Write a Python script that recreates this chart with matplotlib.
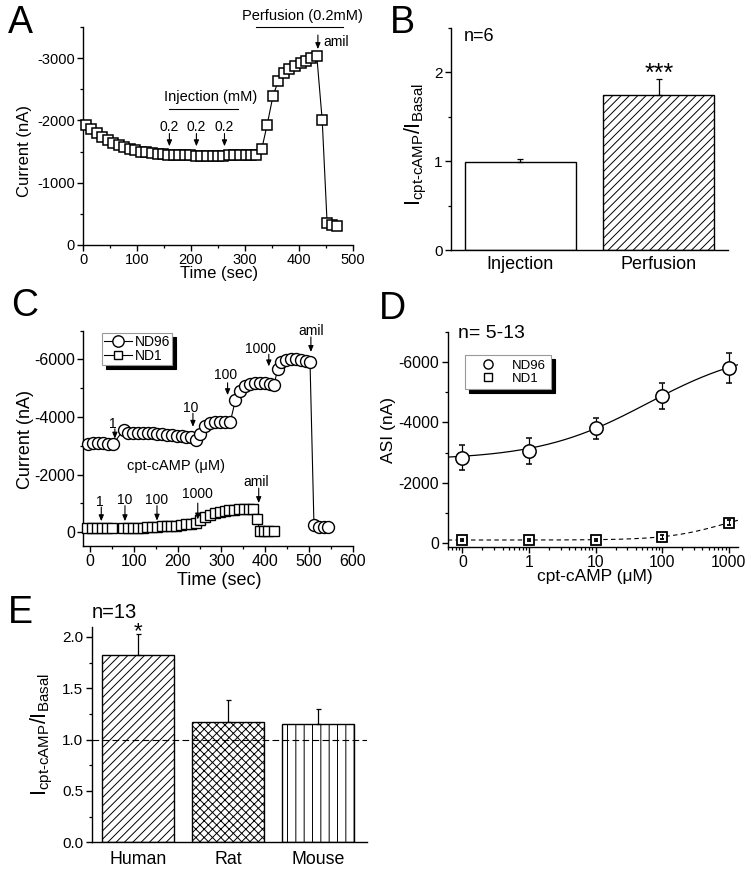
import numpy as np
import matplotlib
matplotlib.use('Agg')
import matplotlib.pyplot as plt
from matplotlib.ticker import MultipleLocator, NullFormatter, LogLocator, FormatStrFormatter, FixedLocator
from matplotlib.lines import Line2D

plt.rcParams['font.family'] = ['Liberation Sans', 'DejaVu Sans']
plt.rcParams['axes.unicode_minus'] = False
plt.rcParams['mathtext.fontset'] = 'custom'
plt.rcParams['mathtext.rm'] = 'Liberation Sans'
plt.rcParams['mathtext.it'] = 'Liberation Sans:italic'
plt.rcParams['mathtext.bf'] = 'Liberation Sans:bold'
plt.rcParams['hatch.linewidth'] = 0.7
plt.rcParams['axes.linewidth'] = 1.0

# ---------------- data ----------------
# Panel A
tA = [5, 15, 25, 36, 46, 56, 66, 76, 87, 97, 107, 117, 127, 138, 148, 158, 168, 178, 189, 199,
      209, 219, 229, 240, 250, 260, 270, 280, 291, 301, 311, 321,
      331, 341, 352, 362, 372, 382, 392, 403, 413, 423, 433, 443, 452, 461, 470]
iA = [-1930, -1860, -1795, -1735, -1685, -1640, -1600, -1570, -1545, -1520,
      -1500, -1487, -1475, -1465, -1458, -1452, -1447, -1443, -1440, -1437,
      -1435, -1433, -1432, -1432, -1433, -1435, -1437, -1438, -1440, -1442, -1443, -1445,
      -1540, -1930, -2400, -2640, -2760, -2830, -2880, -2920, -2960, -3000, -3030,
      -2000, -360, -320, -310]
inj_times = [160, 210, 262]
inj_labels = ['0.2', '0.2', '0.2']

# Panel B
catB = ['Injection', 'Perfusion']
valB = [0.99, 1.74]
errB = [0.03, 0.185]
hatchB = ['', '////']

# Panel C
tC96 = [-4, 8, 19, 30, 42, 53,
        77, 88, 99, 110, 121, 132, 143, 154, 165, 176, 187, 198, 209, 220, 231, 241,
        252, 263, 274, 286, 297, 308, 320,
        332, 342, 354, 365, 376, 388, 399, 410, 420,
        428, 436, 447, 458, 470, 481, 492, 502,
        511, 523, 534, 542]
iC96 = [-3080, -3090, -3090, -3090, -3080, -3060,
        -3560, -3450, -3430, -3430, -3435, -3435, -3430, -3420, -3400, -3380, -3360, -3340, -3330, -3320, -3300, -3220,
        -3420, -3700, -3800, -3820, -3820, -3820, -3820,
        -4600, -4900, -5080, -5160, -5180, -5190, -5180, -5160, -5100,
        -5675, -5905, -5985, -6000, -6000, -5985, -5960, -5905,
        -254, -196, -173, -173]
tC1 = [-6, 5, 16, 27, 38, 51,
       76, 87, 98, 109, 120, 131, 142, 153, 164, 175, 186, 197, 208, 219, 230, 241,
       252, 263, 274, 285, 296, 307, 318, 329, 340, 351, 362, 373,
       381, 388, 397, 406, 419]
iC1 = [-140, -140, -140, -140, -140, -140,
       -140, -140, -145, -150, -160, -175, -185, -195, -200, -205, -210, -225, -245, -270, -300, -330,
       -420, -520, -600, -660, -710, -740, -765, -780, -790, -800, -800, -800,
       -450, -30, -25, -25, -25]
c96_marks_t = [57, 235, 314, 408]
c96_marks_lab = ['1', '10', '100', '1000']
c1_marks_t = [26, 80, 153, 246]
c1_marks_lab = ['1', '10', '100', '1000']

# Panel D
concD_pos = [0.1, 1, 10, 100, 1000]
concD_lab = ['0', '1', '10', '100', '1000']
asi96 = [-2830, -3050, -3800, -4880, -5800]
err96 = [410, 435, 340, 440, 480]
asi1 = [-110, -110, -115, -220, -680]
err1 = [30, 30, 40, 60, 80]
# fitted Hill curves (bottom, amplitude, EC50, slope)
fit96_par = (-2760, -3750, 61.0, 0.53)
fit1_par = (-110, -1064, 867.0, 1.0)

# Panel E
catE = ['Human', 'Rat', 'Mouse']
valE = [1.82, 1.17, 1.15]
errE = [0.205, 0.22, 0.147]
hatchE = ['////', 'xxxx', '||']

# ---------------- figure ----------------
W, H = 751, 874
fig = plt.figure(figsize=(W / 100, H / 100), dpi=100)


def rect(l, t, r, b):
    return [l / W, 1 - b / H, (r - l) / W, (b - t) / H]


def style(ax, fs=10):
    for s in ['top', 'right']:
        ax.spines[s].set_visible(False)
    ax.tick_params(which='major', direction='out', length=4, width=1.0, pad=2, labelsize=fs)
    ax.tick_params(which='minor', direction='out', length=2.2, width=0.9)


def arrow(ax, x, y0, y1):
    ax.annotate('', xy=(x, y1), xytext=(x, y0),
                arrowprops=dict(arrowstyle='-|>,head_length=0.6,head_width=0.25', color='k',
                                lw=0.8, mutation_scale=6, shrinkA=0, shrinkB=0),
                annotation_clip=False)


ylab_ratio = r'I$_{\text{cpt-cAMP}}$/I$_{\text{Basal}}$'

# ---- A ----
axA = fig.add_axes(rect(83, 27, 353, 245))
style(axA, 10.5)
axA.plot(tA, iA, '-', color='k', lw=0.8, marker='s', ms=7.2, mfc='white', mec='k', mew=1.1,
         clip_on=False, zorder=3)
axA.set_xlim(0, 500)
axA.set_ylim(0, -3500)
axA.xaxis.set_major_locator(MultipleLocator(100))
axA.xaxis.set_minor_locator(MultipleLocator(50))
axA.yaxis.set_major_locator(MultipleLocator(1000))
axA.yaxis.set_minor_locator(MultipleLocator(500))
axA.set_xlabel('Time (sec)', fontsize=12)
axA.set_ylabel('Current (nA)', fontsize=12)
axA.xaxis.set_label_coords(0.504, -0.095)
axA.yaxis.set_label_coords(-0.19, 0.432)
axA.text(236, -2370, 'Injection (mM)', ha='center', va='center', fontsize=10.5)
axA.plot([160, 287], [-2184, -2184], color='k', lw=0.8)
for x, lab in zip(inj_times, inj_labels):
    axA.text(x, -1902, lab, ha='center', va='center', fontsize=10)
    arrow(axA, x, -1790, -1585)
axA.text(407, -3676, 'Perfusion (0.2mM)', ha='center', va='center', fontsize=10.5, clip_on=False)
axA.plot([321, 481], [-3500, -3500], color='k', lw=0.8, clip_on=False)
arrow(axA, 435, -3370, -3145)
axA.text(446, -3266, 'amil', ha='left', va='center', fontsize=10)

# ---- B ----
axB = fig.add_axes(rect(451, 28, 728, 250))
style(axB, 11)
xB = np.arange(1, len(catB) + 1)
for x, v, h in zip(xB, valB, hatchB):
    axB.bar(x, v, width=0.8, color='white', edgecolor='k', lw=1.0, hatch=h, zorder=2)
axB.errorbar(xB, valB, yerr=[np.zeros(len(valB)), errB], fmt='none', ecolor='k',
             elinewidth=0.9, capsize=2.5, capthick=0.9, zorder=3)
axB.set_xlim(0.5, 2.5)
axB.set_ylim(0, 2.5)
axB.yaxis.set_major_locator(MultipleLocator(1))
axB.yaxis.set_minor_locator(MultipleLocator(0.5))
axB.set_xticks(xB)
axB.set_xticklabels(catB, fontsize=13)
axB.tick_params(axis='x', length=0, pad=4)
axB.set_ylabel(ylab_ratio, fontsize=15.5)
axB.yaxis.set_label_coords(-0.078, 0.477)
axB.text(0.589, 2.35, 'n=6', ha='left', va='baseline', fontsize=13)
axB.text(2.0, 1.91, '***', ha='center', va='baseline', fontsize=18)

# ---- C ----
axC = fig.add_axes(rect(83.3, 330.7, 353, 546))
style(axC, 11.5)
axC.plot(tC96, iC96, '-', color='k', lw=0.8, marker='o', ms=8.6, mfc='white', mec='k', mew=1.0,
         clip_on=False, zorder=3, label='ND96')
axC.plot(tC1, iC1, '-', color='k', lw=0.8, marker='s', ms=6.6, mfc='white', mec='k', mew=1.0,
         clip_on=False, zorder=3, label='ND1')
axC.set_xlim(-15, 600)
axC.set_ylim(480, -7000)
axC.xaxis.set_major_locator(MultipleLocator(100))
axC.xaxis.set_minor_locator(MultipleLocator(50))
axC.yaxis.set_major_locator(MultipleLocator(2000))
axC.yaxis.set_minor_locator(MultipleLocator(1000))
axC.set_xlabel('Time (sec)', fontsize=13)
axC.set_ylabel('Current (nA)', fontsize=13)
axC.xaxis.set_label_coords(0.503, -0.122)
axC.yaxis.set_label_coords(-0.181, 0.493)
c96_lab_y = [-3772, -4325, -5444, -6367]
c96_arr = [(-3590, -3250), (-4130, -3660), (-5190, -4760), (-6180, -5760)]
c96_lab_x = [53, 231, 309, 390]
for x, lx, ly, lab, (a0, a1) in zip(c96_marks_t, c96_lab_x, c96_lab_y, c96_marks_lab, c96_arr):
    axC.text(lx, ly, lab, ha='center', va='center', fontsize=10)
    arrow(axC, x, a0, a1)
axC.text(504, -7000, 'amil', ha='center', va='center', fontsize=10, clip_on=False)
arrow(axC, 504, -6780, -6260)
c1_lab_x = [23, 80, 152, 245]
c1_lab_y = [-1061, -1119, -1119, -1326]
c1_arr = [(-870, -380), (-920, -380), (-920, -400), (-1010, -440)]
for x, lx, ly, lab, (a0, a1) in zip(c1_marks_t, c1_lab_x, c1_lab_y, c1_marks_lab, c1_arr):
    axC.text(lx, ly, lab, ha='center', va='center', fontsize=10)
    arrow(axC, x, a0, a1)
axC.text(379, -1753, 'amil', ha='center', va='center', fontsize=10)
arrow(axC, 385, -1530, -1010)
axC.text(197, -2295, 'cpt-cAMP (μM)', ha='center', va='center', fontsize=10.5)
legC = axC.legend(loc='upper left', bbox_to_anchor=(0.069, 0.991), fontsize=10, frameon=True,
                  fancybox=False, framealpha=1, edgecolor='0.6',
                  shadow={'ox': 3, 'oy': -3, 'shade': 1.0, 'alpha': 1},
                  borderaxespad=0, handlelength=2.0, handletextpad=0.2, labelspacing=0.0,
                  borderpad=0.15, markerscale=0.95)
legC.get_frame().set_linewidth(0.8)

# ---- D ----
axD = fig.add_axes(rect(447.7, 331.7, 738.3, 546.7))
style(axD, 11.3)
axD.set_xscale('log')
xfit = np.logspace(np.log10(0.06), np.log10(1400), 300)


def hill(x, p):
    b, a, k, n = p
    return b + a / (1 + (k / x) ** n)


axD.plot(xfit, hill(xfit, fit96_par), '-', color='k', lw=0.9, zorder=2)
axD.plot(xfit, hill(xfit, fit1_par), '--', color='k', lw=0.8, dashes=(4, 3), zorder=2)
axD.errorbar(concD_pos, asi96, yerr=err96, fmt='o', ms=9.6, mfc='white', mec='k', mew=1.1,
             ecolor='k', elinewidth=0.9, capsize=2.2, capthick=0.9, clip_on=False, zorder=3)
axD.errorbar(concD_pos, asi1, yerr=err1, fmt='s', ms=7.0, mfc='white', mec='k', mew=1.3,
             ecolor='k', elinewidth=0.8, capsize=1.5, capthick=0.8, clip_on=False, zorder=3,
             barsabove=True)
axD.set_xlim(0.06, 1400)
axD.set_ylim(110, -7000)
axD.xaxis.set_major_locator(FixedLocator(concD_pos))
axD.set_xticklabels(concD_lab)
axD.xaxis.set_minor_locator(LogLocator(base=10, subs=np.arange(2, 10) * 1.0, numticks=30))
axD.xaxis.set_minor_formatter(NullFormatter())
axD.yaxis.set_major_locator(MultipleLocator(2000))
axD.yaxis.set_minor_locator(MultipleLocator(1000))
axD.set_xlabel('cpt-cAMP (μM)', fontsize=12.5)
axD.set_ylabel('ASI (nA)', fontsize=12.5)
axD.xaxis.set_label_coords(0.507, -0.105)
axD.yaxis.set_label_coords(-0.177, 0.543)
axD.text(0.034, 0.969, 'n= 5-13', transform=axD.transAxes, ha='left', va='baseline', fontsize=14)
hD = [Line2D([], [], ls='none', marker='o', ms=6.6, mfc='white', mec='k', mew=1.0),
      Line2D([], [], ls='none', marker='s', ms=5.2, mfc='white', mec='k', mew=1.0)]
legD = axD.legend(hD, ['ND96', 'ND1'], loc='upper left', bbox_to_anchor=(0.06, 0.892),
                  fontsize=9.5, frameon=True, fancybox=False, framealpha=1, edgecolor='0.6',
                  shadow={'ox': 3, 'oy': -3, 'shade': 1.0, 'alpha': 1},
                  borderaxespad=0, handlelength=2.8, handletextpad=0.4, labelspacing=0.05,
                  borderpad=0.35)
legD.get_frame().set_linewidth(0.8)

# ---- E ----
axE = fig.add_axes(rect(91.7, 626.7, 366.7, 842.3))
style(axE, 11)
xE = np.arange(1, len(catE) + 1)
for x, v, h in zip(xE, valE, hatchE):
    axE.bar(x, v, width=0.8, color='white', edgecolor='k', lw=1.0, hatch=h, zorder=2)
axE.errorbar(xE, valE, yerr=[np.zeros(len(valE)), errE], fmt='none', ecolor='k',
             elinewidth=0.9, capsize=1.8, capthick=0.9, zorder=3)
axE.axhline(1.0, color='k', lw=0.8, dashes=(6, 3), zorder=4)
axE.set_xlim(0.49, 3.54)
axE.set_ylim(0, 2.1)
axE.yaxis.set_major_locator(MultipleLocator(0.5))
axE.yaxis.set_minor_locator(MultipleLocator(0.25))
axE.yaxis.set_major_formatter(FormatStrFormatter('%.1f'))
axE.set_xticks(xE)
axE.set_xticklabels(catE, fontsize=12.8)
axE.tick_params(axis='x', length=0, pad=6)
axE.set_ylabel(ylab_ratio, fontsize=15.5)
axE.yaxis.set_label_coords(-0.135, 0.498)
axE.text(1.0, 2.0, '*', ha='center', va='baseline', fontsize=16, clip_on=False)
axE.text(0.49, 2.185, 'n=13', ha='left', va='baseline', fontsize=14.5, clip_on=False)

# ---- panel letters ----
for lab, x, y in [('A', 8, 33), ('B', 390, 33), ('C', 11, 316), ('D', 379, 319), ('E', 8, 623)]:
    fig.text(x / W, 1 - y / H, lab, fontsize=27, ha='left', va='baseline')

fig.savefig('out.png', dpi=100)
